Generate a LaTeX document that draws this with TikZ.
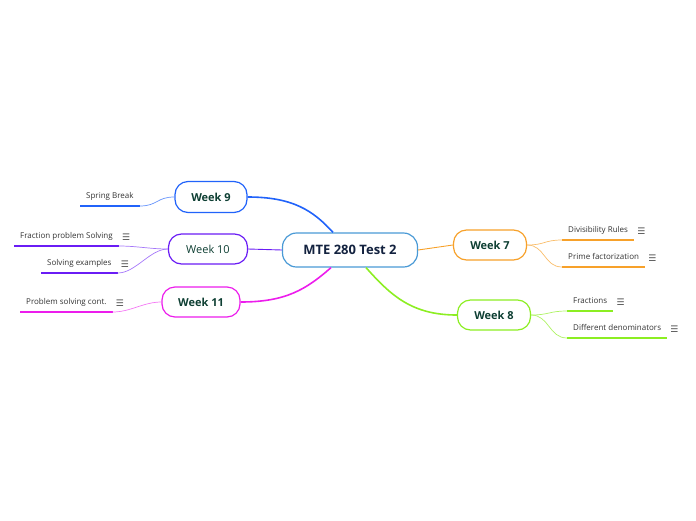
\documentclass[tikz,border=0pt]{standalone}
\usepackage{fontspec}
\setmainfont{Open Sans}
\newfontfamily\iconfont{DejaVu Sans}
\definecolor{RootLine}{HTML}{4A9AD6}
\definecolor{RootText}{HTML}{13223F}
\definecolor{WeekText}{HTML}{0E3F33}
\definecolor{SubText}{HTML}{333333}
\definecolor{NineBlue}{HTML}{2163FA}
\definecolor{TenPurple}{HTML}{6A1CF5}
\definecolor{ElevenPink}{HTML}{EC1DEC}
\definecolor{SevenOrange}{HTML}{F7A12A}
\definecolor{EightGreen}{HTML}{8CEE22}
\usetikzlibrary{positioning}

\begin{document}
\begin{tikzpicture}[
  x=1pt, y=-1pt,
  root/.style={
    rectangle, rounded corners=14pt,
    draw=RootLine, line width=1.2pt, fill=white,
    minimum width=135pt, minimum height=34pt,
    text=RootText, font=\fontsize{13}{15}\selectfont\bfseries},
  topic/.style={
    rectangle, rounded corners=13pt,
    line width=1.2pt, fill=white,
    minimum width=73pt, minimum height=30pt,
    text=WeekText, font=\fontsize{11}{13}\selectfont\bfseries},
  sub/.style={
    anchor=south west, text=SubText,
    font=\fontsize{8}{10}\selectfont,
    text height=6pt, text depth=2pt, inner xsep=6pt, inner ysep=5pt},
  icon/.style={font=\iconfont\fontsize{9}{10}\selectfont, text=black!70, inner sep=0pt},
  branch/.style={line width=1.6pt},
  link/.style={line width=0.9pt},
  twig/.style={line width=0.7pt},
  uline/.style={line width=2pt},
]
\useasboundingbox (0,0) rectangle (696,520);

\node[root] (test) at (350,250) {MTE 280 Test 2};

\node[topic, draw=NineBlue, minimum width=72pt, minimum height=31pt] (wk9) at (211,197) {Week 9};
\node[topic, draw=TenPurple, minimum width=79pt, font=\fontsize{11}{13}\selectfont] (wk10) at (208,249) {Week 10};
\node[topic, draw=ElevenPink, minimum width=78pt] (wk11) at (201,302) {Week 11};
\node[topic, draw=SevenOrange] (wk7) at (490,245) {Week 7};
\node[topic, draw=EightGreen] (wk8) at (494,315) {Week 8};

\node[sub] (spring) at (80,206) {Spring Break};
\node[sub] (fracsolve) at (14,246) {Fraction problem Solving};
\node[sub] (solvex) at (41,273) {Solving examples};
\node[sub] (probcont) at (20,312) {Problem solving cont.};
\node[sub] (divis) at (562,240) {Divisibility Rules};
\node[sub] (prime) at (562,267) {Prime factorization};
\node[sub] (fract) at (567,311) {Fractions};
\node[sub] (denom) at (567,338) {Different denominators};

\foreach \s in {fracsolve, solvex, probcont, divis, prime, fract, denom}
  \node[icon, right=3pt of \s] (\s-ic) {☰};

\draw[uline, NineBlue] (spring.south west) -- (spring.south east);
\draw[uline, TenPurple] (fracsolve.south west) -- (fracsolve.south east);
\draw[uline, TenPurple] (solvex.south west) -- (solvex.south east);
\draw[uline, ElevenPink] (probcont.south west) -- (probcont.south east);
\draw[uline, SevenOrange] (divis.south west) -- (divis.south east);
\draw[uline, SevenOrange] (prime.south west) -- (prime.south east);
\draw[uline, EightGreen] (fract.south west) -- (fract.south east);
\draw[uline, EightGreen] (denom.south west) -- (denom.south east);

\draw[branch, NineBlue] ([xshift=-17pt]test.north) .. controls +(-20,-22) and +(45,0) .. (wk9.east);
\draw[link, TenPurple] (test.west) -- (wk10.east);
\draw[branch, ElevenPink] ([xshift=-19pt]test.south) .. controls +(-25,22) and +(45,0) .. (wk11.east);
\draw[link, SevenOrange] (test.east) -- (wk7.west);
\draw[branch, EightGreen] ([xshift=16pt]test.south) .. controls +(25,28) and +(-45,0) .. (wk8.west);

\draw[twig, NineBlue!70] (wk9.west) .. controls +(-18,0) and +(18,0) .. (spring.south east);
\draw[twig, TenPurple!60] (wk10.west) .. controls +(-18,0) and +(18,0) .. (fracsolve.south east);
\draw[twig, TenPurple!60] (wk10.west) .. controls +(-18,0) and +(18,0) .. (solvex.south east);
\draw[twig, ElevenPink!60] (wk11.west) .. controls +(-18,0) and +(18,0) .. (probcont.south east);
\draw[twig, SevenOrange!70] (wk7.east) .. controls +(18,0) and +(-18,0) .. (divis.south west);
\draw[twig, SevenOrange!70] (wk7.east) .. controls +(18,0) and +(-18,0) .. (prime.south west);
\draw[twig, EightGreen!70] (wk8.east) .. controls +(18,0) and +(-18,0) .. (fract.south west);
\draw[twig, EightGreen!70] (wk8.east) .. controls +(18,0) and +(-18,0) .. (denom.south west);

\end{tikzpicture}
\end{document}
